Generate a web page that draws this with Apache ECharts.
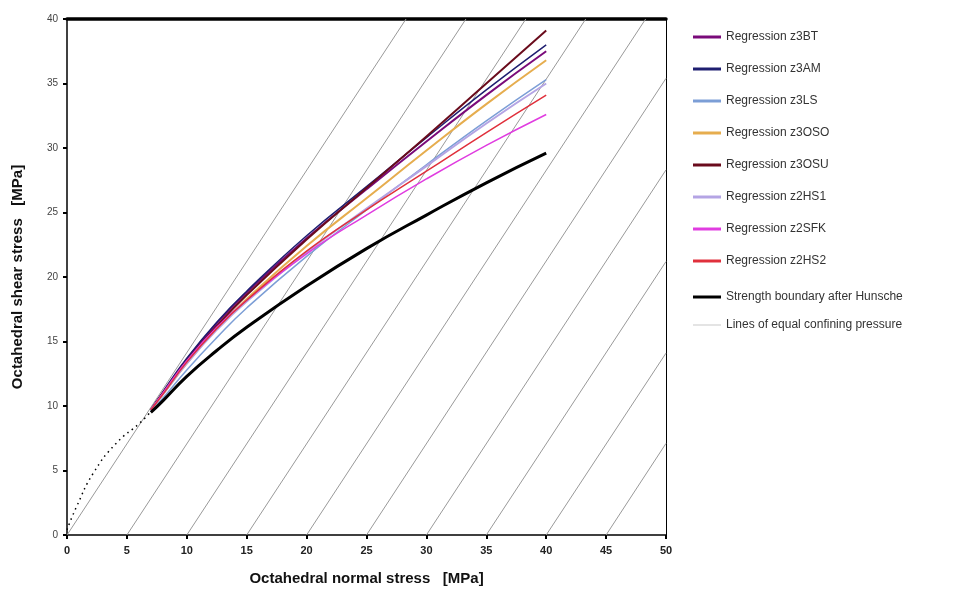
<!DOCTYPE html>
<html>
<head>
<meta charset="utf-8">
<script src="https://cdn.jsdelivr.net/npm/echarts@6/dist/echarts.min.js"></script>
<style>
html, body { margin: 0; padding: 0; background: #fff; }
#chart { width: 968px; height: 598px; }
</style>
</head>
<body>
<div id="chart"></div>
<script>
// octahedral normal stress where values were read
var sigma = [7, 8, 10, 12.5, 15, 20, 25, 30, 35, 40];

var z3BT  = [9.7, 11.0, 13.6, 16.4, 18.8, 23.0, 26.8, 30.5, 34.1, 37.5];
var z3AM  = [9.7, 11.1, 13.7, 16.5, 18.9, 23.2, 27.0, 30.8, 34.5, 38.0];
var z3LS  = [9.6, 10.6, 12.8, 15.3, 17.6, 21.6, 25.2, 28.7, 32.1, 35.3];
var z3OSO = [9.7, 10.9, 13.3, 16.0, 18.3, 22.4, 26.1, 29.8, 33.4, 36.8];
var z3OSU = [9.7, 11.0, 13.5, 16.2, 18.6, 22.9, 26.9, 30.9, 35.0, 39.1];
var z2HS1 = [9.7, 10.9, 13.3, 15.9, 18.1, 21.9, 25.3, 28.6, 31.9, 35.0];
var z2SFK = [9.7, 11.0, 13.5, 16.1, 18.2, 21.8, 24.8, 27.6, 30.2, 32.6];
var z2HS2 = [9.7, 10.9, 13.4, 16.0, 18.2, 22.0, 25.2, 28.2, 31.2, 34.1];
var hunsche = [9.5, 10.4, 12.3, 14.3, 16.1, 19.3, 22.2, 24.8, 27.3, 29.6];

// dotted extension of the boundary towards the origin
var extX = [0, 0.8, 2.2, 4.1, 6.1, 7];
var extY = [0.4, 2.2, 4.8, 7.1, 8.7, 9.56];

// lines of equal confining pressure: [x0, y0, x1, y1]
var confLines = [
    [0, 0, 28.3, 40], [5, 0, 33.3, 40], [10, 0, 38.3, 40], [15, 0, 43.3, 40],
    [20, 0, 48.3, 40], [25, 0, 50, 35.4], [30, 0, 50, 28.3], [35, 0, 50, 21.2],
    [40, 0, 50, 14.1], [45, 0, 50, 7.1]
];

var xTicks = [0, 5, 10, 15, 20, 25, 30, 35, 40, 45, 50];
var yTicks = [0, 5, 10, 15, 20, 25, 30, 35, 40];

var regs = [
    {name: 'Regression z3BT', data: z3BT, color: '#7a0a7a', width: 2},
    {name: 'Regression z3AM', data: z3AM, color: '#1e1e70', width: 1.5},
    {name: 'Regression z3LS', data: z3LS, color: '#7c9ed6', width: 1.5},
    {name: 'Regression z3OSO', data: z3OSO, color: '#e6ad4e', width: 2},
    {name: 'Regression z3OSU', data: z3OSU, color: '#6a0b1c', width: 2},
    {name: 'Regression z2HS1', data: z2HS1, color: '#b4a4e4', width: 2},
    {name: 'Regression z2SFK', data: z2SFK, color: '#e03ce0', width: 1.5},
    {name: 'Regression z2HS2', data: z2HS2, color: '#e0303c', width: 1.5}
];

function pairs(xs, ys) {
    return xs.map(function (x, i) { return [x, ys[i]]; });
}

var series = [];
confLines.forEach(function (l) {
    series.push({
        name: 'Lines of equal confining pressure',
        type: 'line',
        data: [[l[0], l[1]], [l[2], l[3]]],
        symbol: 'none',
        lineStyle: {color: '#999', width: 1},
        itemStyle: {color: '#c8c8c8'},
        silent: true,
        z: 1
    });
});
series.push({
    name: 'ext',
    type: 'line',
    data: pairs(extX, extY),
    smooth: true,
    symbol: 'none',
    lineStyle: {color: '#000', width: 1.5, type: [1.5, 4]},
    z: 2
});
regs.forEach(function (r) {
    series.push({
        name: r.name,
        type: 'line',
        data: pairs(sigma, r.data),
        smooth: true,
        symbol: 'none',
        lineStyle: {color: r.color, width: r.width},
        itemStyle: {color: r.color},
        z: 3
    });
});
series.push({
    name: 'Strength boundary after Hunsche',
    type: 'line',
    data: pairs(sigma, hunsche),
    smooth: true,
    symbol: 'none',
    lineStyle: {color: '#000', width: 3},
    itemStyle: {color: '#000'},
    z: 4
});

var legendText = {color: '#333', fontSize: 12, fontFamily: 'Liberation Sans', lineHeight: 14};

var option = {
    backgroundColor: '#fff',
    animation: false,
    grid: {left: 67, right: 302, top: 19, bottom: 63},
    legend: [
        {
            data: regs.map(function (r) { return r.name; }),
            orient: 'vertical', left: 688, top: 25,
            itemWidth: 28, itemHeight: 3, itemGap: 18,
            icon: 'rect', textStyle: legendText
        },
        {
            data: ['Strength boundary after Hunsche'],
            orient: 'vertical', left: 688, top: 285,
            itemWidth: 28, itemHeight: 3, icon: 'rect', textStyle: legendText
        },
        {
            data: ['Lines of equal confining pressure'],
            orient: 'vertical', left: 688, top: 313,
            itemWidth: 28, itemHeight: 1, icon: 'rect', textStyle: legendText
        }
    ],
    xAxis: [
        {
            type: 'value', min: 0, max: 50, interval: 5,
            name: 'Octahedral normal stress   [MPa]',
            nameLocation: 'middle', nameGap: 36,
            nameTextStyle: {fontSize: 15, fontWeight: 'bold', color: '#111', fontFamily: 'Liberation Sans'},
            axisLine: {lineStyle: {color: '#000', width: 1.5}},
            axisTick: {show: true, length: 4, lineStyle: {color: '#000', width: 2}},
            axisLabel: {
                color: '#222', fontSize: 11, fontWeight: 'bold', margin: 10, fontFamily: 'Liberation Sans',
                formatter: function (v) { return xTicks.indexOf(v) >= 0 ? String(v) : ''; }
            },
            splitLine: {show: false}
        },
        {
            type: 'value', min: 0, max: 50, position: 'top',
            axisLine: {show: true, onZero: false, lineStyle: {color: '#000', width: 3.5}},
            axisTick: {show: false}, axisLabel: {show: false}, splitLine: {show: false}
        }
    ],
    yAxis: [
        {
            type: 'value', min: 0, max: 40, interval: 5,
            name: 'Octahedral shear stress   [MPa]',
            nameLocation: 'middle', nameGap: 42,
            nameTextStyle: {fontSize: 15, fontWeight: 'bold', color: '#111', fontFamily: 'Liberation Sans'},
            axisLine: {show: true, lineStyle: {color: '#000', width: 1.5}},
            axisTick: {show: true, length: 4, lineStyle: {color: '#000', width: 2}},
            axisLabel: {
                color: '#444', fontSize: 10, margin: 9, fontFamily: 'Liberation Sans',
                formatter: function (v) { return yTicks.indexOf(v) >= 0 ? String(v) : ''; }
            },
            splitLine: {show: false}
        },
        {
            type: 'value', min: 0, max: 40, position: 'right',
            axisLine: {show: true, onZero: false, lineStyle: {color: '#000', width: 1}},
            axisTick: {show: false}, axisLabel: {show: false}, splitLine: {show: false}
        }
    ],
    series: series
};

var myChart = echarts.init(document.getElementById('chart'));
myChart.setOption(option);
</script>
</body>
</html>
